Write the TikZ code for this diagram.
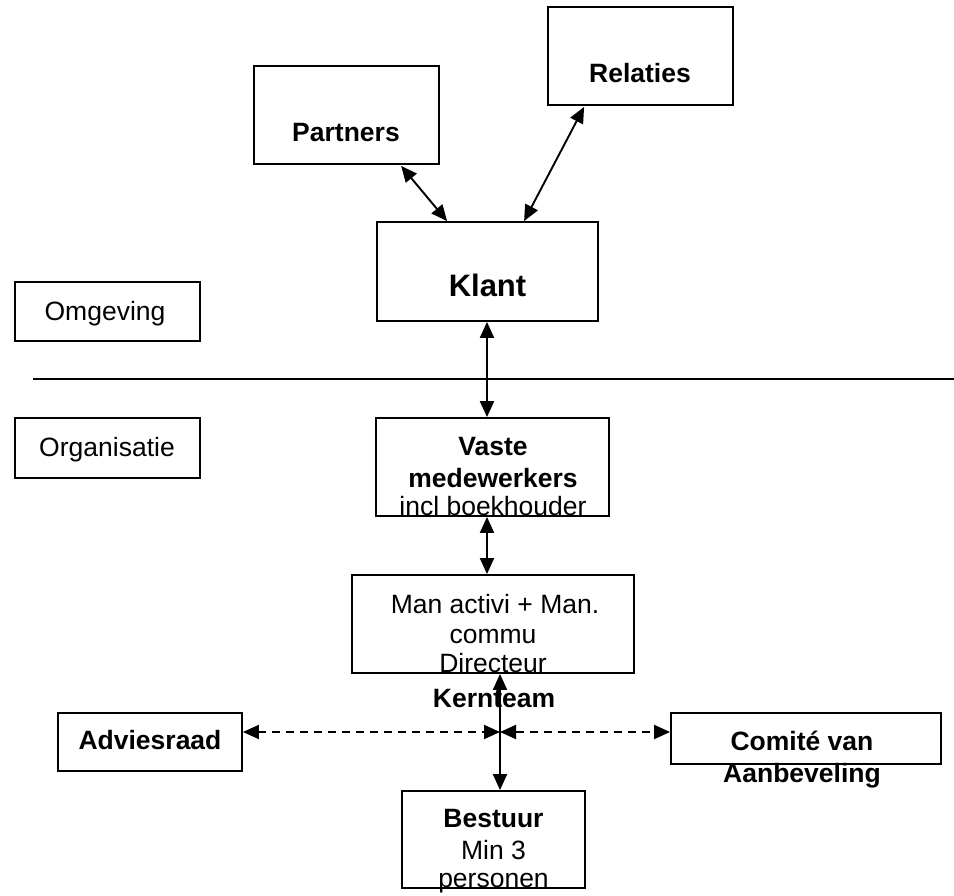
\documentclass[tikz,border=0pt]{standalone}
\usepackage{fontspec}
\setmainfont{Liberation Sans}
\usetikzlibrary{arrows.meta,calc}
\begin{document}
\begin{tikzpicture}[x=1pt,y=-1pt,
  box/.style={draw, line width=1.8pt, inner sep=0pt},
  lbl/.style={anchor=base, inner sep=0pt, font=\fontsize{26.5}{30}\selectfont},
  blbl/.style={anchor=base, inner sep=0pt, font=\fontsize{26.5}{30}\selectfont\bfseries},
  conn/.style={line width=1.9pt, {Triangle[length=16pt,width=14pt]}-{Triangle[length=16pt,width=14pt]}},
  dconn/.style={conn, dash pattern=on 8pt off 6pt}]
\useasboundingbox[fill=white] (0,0) rectangle (954,896);
% boxes
\node[box, minimum width=185pt, minimum height=98pt] (partners) at (346.5,115) {};
\node[box, minimum width=185pt, minimum height=98pt] (relaties) at (640.5,56) {};
\node[box, minimum width=221pt, minimum height=99pt] (klant) at (487.5,271.5) {};
\node[box, minimum width=185pt, minimum height=59pt] (omgeving) at (107.5,311.5) {};
\node[box, minimum width=185pt, minimum height=60pt] (organisatie) at (107.5,448) {};
\node[box, minimum width=233pt, minimum height=98pt] (vaste) at (492.5,467) {};
\node[box, minimum width=282pt, minimum height=98pt] (man) at (493,624) {};
\node[box, minimum width=184pt, minimum height=58pt] (advies) at (150,742) {};
\node[box, minimum width=270pt, minimum height=51pt] (comite) at (806,738.5) {};
\node[box, minimum width=183pt, minimum height=97pt] (bestuur) at (493.5,839.5) {};
% texts
\node[blbl] (tpartners) at (346,142) {Partners};
\node[blbl] (trelaties) at (640,83) {Relaties};
\node[anchor=base, inner sep=0pt, font=\fontsize{31}{36}\selectfont\bfseries] (tklant) at (487.5,297) {Klant};
\node[lbl] (tomgeving) at (105,321) {Omgeving};
\node[lbl] (torganisatie) at (107,456) {Organisatie};
\node[blbl] (tvaste1) at (493,455) {Vaste};
\node[blbl] (tvaste2) at (493,487) {medewerkers};
\node[lbl] (tvaste3) at (493,515) {incl boekhouder};
\node[lbl] (tman1) at (495,613) {Man activi + Man.};
\node[lbl] (tman2) at (493,643) {commu};
\node[lbl] (tman3) at (493,672) {Directeur};
\node[blbl] (tkern) at (494,707) {Kernteam};
\node[blbl] (tadvies) at (150,749) {Adviesraad};
\node[blbl] (tcomite1) at (802,750) {Comité van};
\node[blbl] (tcomite2) at (802,782) {Aanbeveling};
\node[blbl] (tbestuur1) at (493.5,827) {Bestuur};
\node[lbl] (tbestuur2) at (493.5,859) {Min 3};
\node[lbl] (tbestuur3) at (493.5,887) {personen};
% separator
\coordinate (sepL) at (33,379);
\coordinate (sepR) at (954,379);
\draw[line width=1.3pt] (sepL) -- (sepR);
% connectors
\draw[conn] ($(partners.south west)+(148,1)$) -- ($(klant.north west)+(71,0)$);
\draw[conn] ($(relaties.south west)+(37,1)$) -- ($(klant.north west)+(148,0)$);
\coordinate (kv) at ($(klant.south)+(-0.5,0)$);
\draw[conn] (kv) -- (kv |- vaste.north);
\coordinate (vm) at ($(vaste.south)+(-5.5,0)$);
\draw[conn] (vm) -- (vm |- man.north);
\coordinate (mb) at ($(man.south)+(7,0)$);
\draw[conn] (mb) -- (mb |- bestuur.north);
\coordinate (hub) at (500,732);
\draw[dconn] (advies.east |- hub) -- (hub);
\draw[dconn] (hub) -- (comite.west |- hub);
\end{tikzpicture}
\end{document}
